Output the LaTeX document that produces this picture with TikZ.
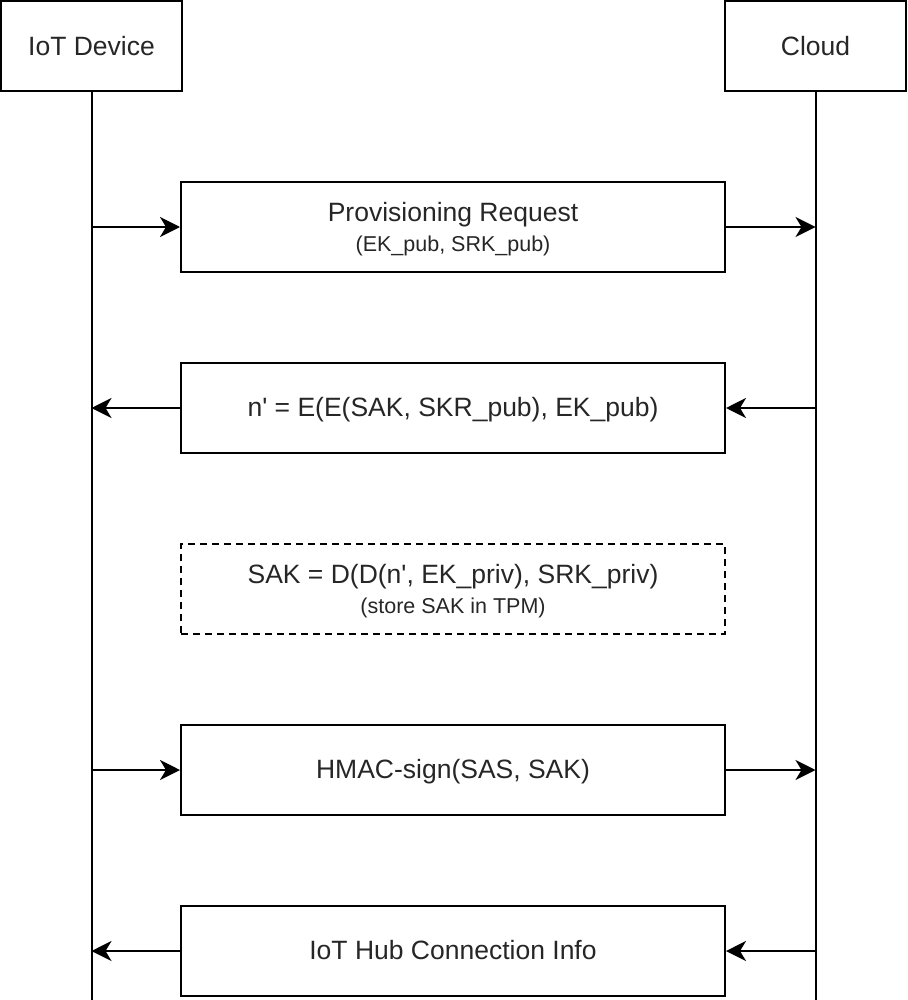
\documentclass[tikz,border=0pt]{standalone}
\usepackage{fontspec}
\setmainfont{Liberation Sans}[Ligatures=TeXOff]
\usetikzlibrary{arrows.meta}
\definecolor{txt}{HTML}{262626}
\tikzset{
  actor/.style={draw=black, line width=2pt, minimum width=181pt, minimum height=90pt, inner sep=0pt, text=txt, font=\fontsize{26.5}{30}\selectfont},
  msgbox/.style={draw=black, line width=2pt, minimum width=544pt, minimum height=90pt, inner sep=0pt},
  dashbox/.style={msgbox, dash pattern=on 7pt off 5pt},
  maintxt/.style={anchor=base, inner sep=0pt, text=txt, font=\fontsize{26.5}{30}\selectfont},
  subtxt/.style={anchor=base, inner sep=0pt, text=txt, font=\fontsize{21.5}{25}\selectfont},
  life/.style={line width=2pt},
  msg/.style={line width=2pt, -{Stealth[length=20pt, width=20pt, inset=6pt]}}
}
\begin{document}
\begin{tikzpicture}[x=1pt, y=-1pt]
\useasboundingbox (0,0) rectangle (907,1000);
% actors
\node[actor] (dev) at (91.5,46) {IoT Device};
\node[actor] (cloud) at (815.5,46) {Cloud};
\coordinate (devend) at (91.5,1000);
\coordinate (cloudend) at (815.5,1000);
\draw[life] (dev.south) -- (devend);
\draw[life] (cloud.south) -- (cloudend);
% message boxes
\node[msgbox] (b1) at (453,227) {};
\node[msgbox] (b2) at (453,408) {};
\node[dashbox] (b3) at (453,589) {};
\node[msgbox] (b4) at (453,770) {};
\node[msgbox] (b5) at (453,951) {};
% texts
\node[maintxt] (t1) at ([yshift=5.3pt]b1.center) {Provisioning Request};
\node[subtxt] (s1) at ([yshift=-24.7pt]b1.center) {(EK\_pub, SRK\_pub)};
\node[maintxt] (t2) at ([yshift=-8.7pt]b2.center) {n' = E(E(SAK, SKR\_pub), EK\_pub)};
\node[maintxt] (t3) at ([yshift=5.3pt]b3.center) {SAK = D(D(n', EK\_priv), SRK\_priv)};
\node[subtxt] (s3) at ([yshift=-24.7pt]b3.center) {(store SAK in TPM)};
\node[maintxt] (t4) at ([yshift=-8.7pt]b4.center) {HMAC-sign(SAS, SAK)};
\node[maintxt] (t5) at ([yshift=-8.7pt]b5.center) {IoT Hub Connection Info};
% connectors
\draw[msg] (b1.west -| dev) -- (b1.west);
\draw[msg] (b1.east) -- (b1.east -| cloud);
\draw[msg] (b2.east -| cloud) -- (b2.east);
\draw[msg] (b2.west) -- (b2.west -| dev);
\draw[msg] (b4.west -| dev) -- (b4.west);
\draw[msg] (b4.east) -- (b4.east -| cloud);
\draw[msg] (b5.east -| cloud) -- (b5.east);
\draw[msg] (b5.west) -- (b5.west -| dev);
\end{tikzpicture}
\end{document}
